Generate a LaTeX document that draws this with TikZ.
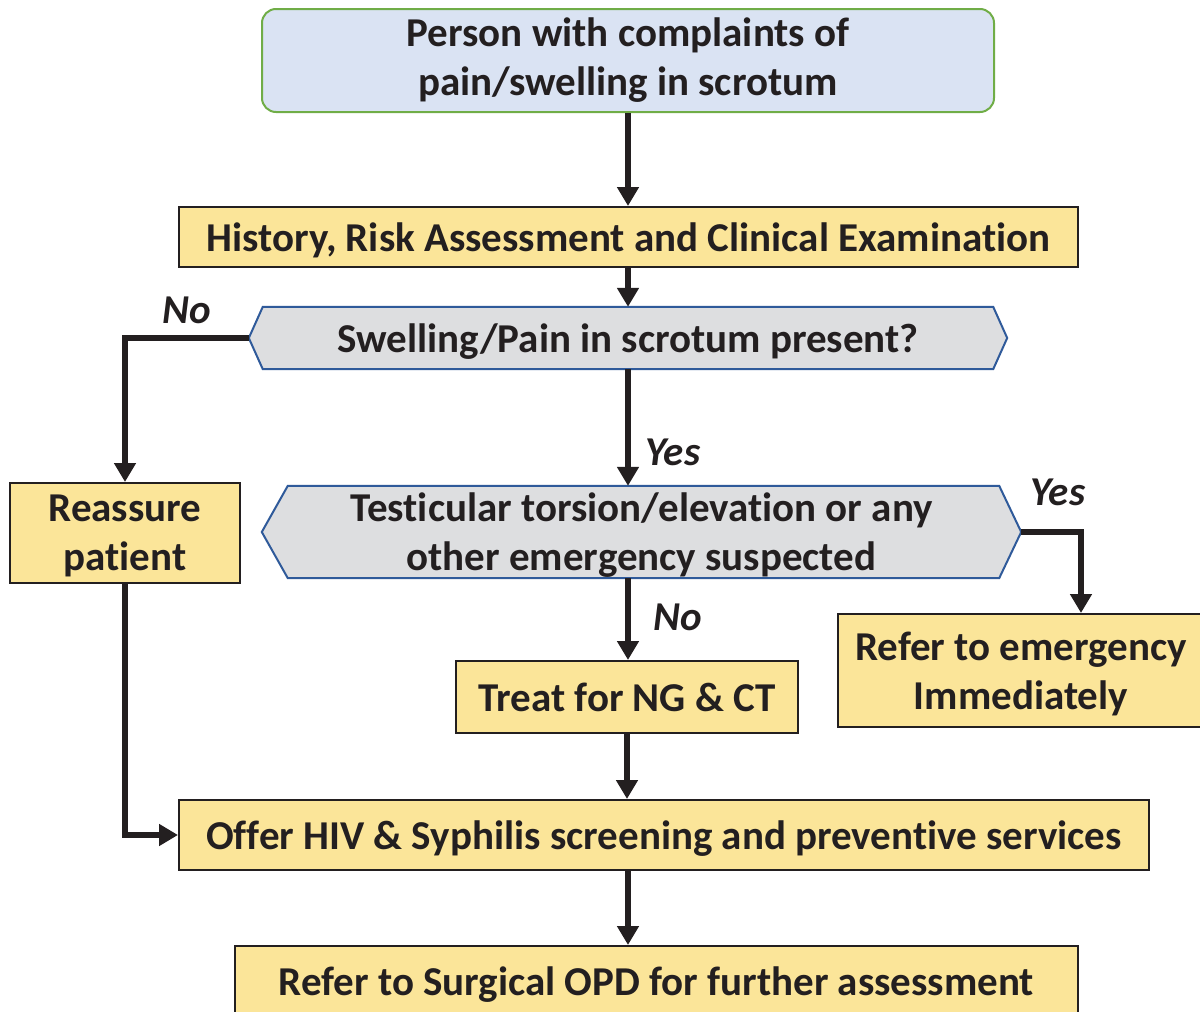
\documentclass[tikz,border=0pt]{standalone}
\usepackage{fontspec}
\setmainfont{Carlito}[Ligatures=NoCommon]
\usetikzlibrary{arrows.meta,backgrounds}
\definecolor{boxyellow}{HTML}{FBE599}
\definecolor{inkblack}{HTML}{231F20}
\definecolor{qgray}{HTML}{DDDEE0}
\definecolor{qblue}{HTML}{2F5A9A}
\definecolor{startblue}{HTML}{DAE3F3}
\definecolor{startgreen}{HTML}{70AD47}

\begin{document}
\begin{tikzpicture}[x=1pt, y=-1pt,
    every node/.style={font=\fontsize{41}{49}\selectfont\bfseries, text=inkblack, align=center, inner sep=0pt},
    stepbox/.style={draw=inkblack, line width=2pt, fill=boxyellow, text depth=0pt},
    qtext/.style={text depth=0pt},
    qbox/.style={draw=qblue, line width=2pt, fill=qgray},
    lbl/.style={font=\fontsize{41}{49}\selectfont\bfseries\itshape},
    arr/.style={draw=inkblack, line width=6pt, -{Triangle[width=21pt,length=19pt]}}]
    \useasboundingbox (0,0) rectangle (1200,1012);
    \node[draw=startgreen, line width=2pt, fill=startblue, rounded corners=14pt, minimum width=732, minimum height=103] (start) at (628,60.5) {Person with complaints of\\pain/swelling in scrotum};
    \node[stepbox, minimum width=899, minimum height=60] (hist) at (628.5,237) {History, Risk Assessment and Clinical Examination};
    \node[qtext, minimum width=758, minimum height=62] (q1) at (628,338) {Swelling/Pain in scrotum present?};
    \node[qtext, minimum width=759, minimum height=92] (q2) at (641.5,532) {Testicular torsion/elevation or any\\other emergency suspected};
    \node[stepbox, minimum width=230, minimum height=100] (reassure) at (125,533) {Reassure\\patient};
    \node[stepbox, minimum width=366, minimum height=113] (emerg) at (1021,670.5) {Refer to emergency\\Immediately};
    \node[stepbox, minimum width=342, minimum height=72] (treat) at (627,697) {Treat for NG \& CT};
    \node[stepbox, minimum width=970, minimum height=70] (offer) at (664,835) {Offer HIV \& Syphilis screening and preventive services};
    \node[stepbox, minimum width=843, minimum height=70] (surg) at (656.5,981) {Refer to Surgical OPD for further assessment};
    % question shapes
    \begin{scope}[on background layer]
    \draw[qbox] (q1.west) -- ([xshift=14]q1.north west) -- ([xshift=-14]q1.north east) -- (q1.east) -- ([xshift=-14]q1.south east) -- ([xshift=14]q1.south west) -- cycle;
    \draw[qbox] (q2.west) -- ([xshift=26]q2.north west) -- ([xshift=-22]q2.north east) -- (q2.east) -- ([xshift=-22]q2.south east) -- ([xshift=26]q2.south west) -- cycle;
    \end{scope}
    % arrows
    \draw[arr] (start.south) -- (start.south |- hist.north);
    \draw[arr] (start.south |- hist.south) -- (q1.north);
    \draw[arr] (q1.west) -| (reassure.north);
    \draw[arr] (q1.south) -- (q1.south |- q2.north);
    \draw[arr] (q2.east) -| ([xshift=60]emerg.north);
    \draw[arr] (q1.south |- q2.south) -- (q1.south |- treat.north);
    \draw[arr] (treat.south) -- (treat.south |- offer.north);
    \draw[arr] (reassure.south) |- (offer.west);
    \draw[arr] (q1.south |- offer.south) -- (q1.south |- surg.north);
    % labels
    \node[lbl] (noA) at (187,310) {No};
    \node[lbl] (yesA) at (673,452) {Yes};
    \node[lbl] (yesB) at (1058,492) {Yes};
    \node[lbl] (noB) at (678,617) {No};
\end{tikzpicture}
\end{document}
